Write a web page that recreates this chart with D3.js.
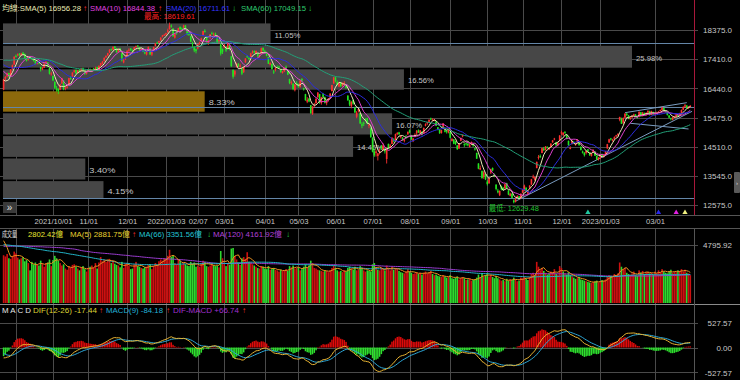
<!DOCTYPE html>
<html><head><meta charset="utf-8">
<script src="https://cdn.jsdelivr.net/npm/d3@7/dist/d3.min.js"></script>
<style>html,body{margin:0;padding:0;background:#000;overflow:hidden}</style>
</head><body><svg id="c" width="740" height="380"></svg>
<script>
// ---------------- DATA ----------------
const closes = [
16741,16818,16934,16822,17067,17209,17490,17516,17572,17536,
17595,17571,17443,17357,17474,17446,17407,17354,17256,17304,
17276,17078,17100,17260,17313,17161,16925,16935,16705,16460,
16393,16349,16570,16781,16408,16462,16497,16780,16781,16966,
17033,16941,17034,16998,17097,17032,16914,16987,17060,17024,
17058,17070,17123,17044,17190,17275,17327,17453,17512,17605,
17726,17715,17818,17770,17640,17745,17696,17369,17373,17427,
17690,17724,17697,17683,17800,17845,17827,17697,17750,17649,
17599,17669,17814,17562,17678,17812,17934,17946,18007,18126,
18196,18218,18270,18367,18526,18499,18169,18239,18288,18436,
18403,18403,18525,18378,18227,18218,17989,17899,17701,17674,
17900,17966,18100,18338,18310,17997,17997,18231,18268,18232,
18221,17969,18055,17594,17652,17891,17697,17934,17736,17178,
16826,17012,17264,17175,17203,16926,17156,17433,17485,17433,
17600,17653,17630,17677,17500,17538,17771,17693,17625,17522,
17256,17284,17083,16976,17116,17139,17153,16975,16988,17124,
17136,16898,16620,16644,16419,16565,16592,16500,16700,16696,
16408,16048,16061,16006,15616,15832,15901,16097,16300,15965,
16144,16156,15963,16018,16104,16266,16550,16807,16675,16552,
16605,16512,16621,16621,16460,16047,15902,15999,15932,15641,
15641,15753,15279,15204,15270,15397,15276,15240,14825,14343,
14217,14349,14284,14359,14464,14551,14349,14460,14467,14551,
14806,14684,14927,14963,14921,14851,14735,14747,14810,15000,
14980,14747,14777,14889,15036,14980,15046,14920,15131,15250,
15312,15399,15420,15408,15410,15200,15095,14956,15056,15278,
15000,14989,15095,14805,14763,14605,14597,14425,14614,14800,
14894,14570,14604,14551,14555,14660,14546,14424,14112,13778,
13800,13466,13656,13424,13268,13462,13763,13721,13531,13106,
12993,13040,13087,13073,13264,13133,12922,12950,12808,12666,
12786,12875,12788,12949,13066,13216,13027,13026,13219,13425,
13515,13500,14007,14168,14174,14460,14393,14515,14474,14465,
14611,14715,14778,14556,14640,14879,14981,14970,14980,14771,
14554,14464,14705,14628,14592,14738,14558,14398,14306,14225,
14366,14342,14229,14283,14403,14207,14086,14137,14224,14188,
14249,14349,14590,14753,14744,14744,14827,14883,14932,15493,
15265,15450,15600,15560,15450,15470,15530,15580,15510,15480,
15660,15520,15640,15580,15620,15690,15560,15680,15580,15609,
15640,15660,15720,15800,15700,15660,15560,15470,15420,15480,
15500,15560,15520,15610,15720,15823,15880,15790,15830,15860];
const opens = [
16400,16760,16840,16950,16850,17090,17230,17520,17530,17590,
17540,17620,17580,17440,17380,17480,17450,17410,17350,17250,
17300,17150,17090,17120,17290,17300,17120,16900,16850,16650,
16450,16420,16400,16600,16700,16450,16480,16560,16790,16820,
16990,17050,16960,17050,17020,17100,17010,16930,17020,17080,
17010,17100,17090,17150,17060,17200,17260,17340,17470,17530,
17630,17740,17720,17830,17760,17650,17760,17600,17300,17420,
17500,17700,17760,17690,17720,17820,17860,17800,17700,17760,
17640,17560,17700,17760,17560,17700,17840,17950,17960,18030,
18150,18210,18220,18300,18400,18520,18420,18120,18300,18330,
18480,18420,18460,18520,18390,18300,18180,17950,17800,17740,
17760,17920,18000,18180,18350,18150,17950,18100,18270,18230,
18250,18150,17950,17900,17750,17800,17800,17780,17860,17500,
17050,16900,17150,17250,17150,17100,16980,17300,17500,17450,
17450,17620,17680,17610,17600,17520,17600,17780,17680,17600,
17480,17230,17250,17000,17050,17150,17160,17080,16950,17000,
17150,17000,16750,16620,16600,16380,16620,16560,16480,16750,
16450,16250,16000,16100,15880,15600,15880,15950,16150,16250,
15950,16250,16150,15950,16050,16130,16350,16600,16800,16650,
16500,16640,16520,16600,16560,16200,16050,15850,16050,15800,
15500,15700,15620,15250,15300,15400,15450,15200,15120,14800,
14350,14300,14200,14350,14500,14400,14450,14100,14600,14500,
14600,14750,14700,14950,14980,14850,14800,14700,14830,14920,
15050,14850,14700,14850,14950,15050,14950,15000,14950,15200,
15280,15330,15440,15400,15380,15350,15150,15080,14960,15100,
15050,15020,14980,15000,14700,14750,14680,14550,14450,14700,
14850,14600,14620,14600,14500,14600,14600,14450,14300,13950,
13750,13700,13500,13600,13350,13300,13650,13800,13600,13250,
13050,12900,13200,13150,13130,13300,13050,12880,12950,12730,
12680,12830,12860,12800,12980,13050,13150,12950,13150,13250,
13500,13400,13800,14150,14200,14300,14450,14400,14500,14420,
14500,14650,14750,14650,14560,14700,14950,14900,15000,14900,
14700,14450,14600,14650,14580,14650,14650,14500,14350,14300,
14300,14420,14300,14200,14330,14350,14200,14080,14150,14250,
14200,14250,14450,14650,14780,14720,14760,14850,14900,15400,
15450,15300,15470,15600,15540,15420,15480,15540,15570,15500,
15500,15650,15530,15620,15560,15640,15680,15570,15650,15590,
15610,15640,15680,15720,15790,15700,15650,15540,15450,15400,
15490,15500,15560,15530,15620,15730,15830,15870,15790,15840];
const highs = [
16760,16850,16960,16960,17080,17230,17500,17560,17600,17610,
17620,17650,17600,17460,17490,17500,17470,17430,17370,17330,
17340,17160,17150,17280,17350,17310,17130,16990,16870,16680,
16520,16450,16590,16790,16710,16500,16540,16790,16850,16970,
17060,17070,17050,17080,17120,17130,17030,17000,17090,17100,
17080,17120,17160,17160,17200,17290,17350,17470,17540,17620,
17740,17760,17830,17840,17770,17760,17780,17610,17430,17520,
17700,17770,17780,17730,17810,17860,17870,17810,17760,17770,
17680,17690,17830,17770,17700,17820,17940,17990,18020,18130,
18210,18250,18290,18420,18619.61,18560,18440,18260,18350,18450,
18490,18460,18550,18540,18400,18310,18190,17990,17840,17760,
17930,17990,18120,18350,18400,18160,18050,18240,18320,18290,
18290,18180,18080,17930,17760,17910,17850,17950,17880,17520,
17070,17050,17290,17280,17260,17120,17170,17440,17540,17480,
17620,17700,17700,17700,17610,17560,17790,17800,17720,17650,
17490,17310,17260,17050,17130,17200,17190,17090,17020,17140,
17200,17010,16760,16700,16610,16580,16680,16600,16710,16780,
16460,16260,16150,16120,15890,15850,15960,16110,16320,16260,
16160,16290,16170,16040,16120,16280,16560,16820,16830,16700,
16660,16650,16640,16680,16580,16210,16060,16010,16080,15830,
15690,15790,15640,15320,15340,15450,15470,15280,15140,14820,
14450,14400,14300,14450,14560,14620,14460,14480,14610,14600,
14820,14790,14940,14990,15000,14900,14830,14780,14900,15010,
15080,14900,14800,14950,15060,15080,15060,15020,15140,15280,
15330,15410,15470,15450,15430,15360,15160,15090,15070,15290,
15070,15050,15110,15020,14800,14760,14700,14560,14630,14810,
14910,14620,14660,14640,14600,14680,14620,14470,14310,13960,
13880,13720,13700,13620,13400,13480,13780,13820,13620,13260,
13110,13060,13220,13170,13280,13310,13080,12980,12960,12760,
12800,12900,12880,12960,13100,13250,13160,13060,13230,13440,
13580,13520,14010,14230,14250,14470,14500,14530,14520,14480,
14620,14730,14800,14670,14660,14890,15040,14990,15020,14920,
14710,14520,14710,14700,14640,14760,14680,14520,14380,14330,
14380,14430,14320,14300,14420,14360,14210,14160,14250,14280,
14260,14360,14600,14770,14800,14770,14850,14900,14950,15500,
15470,15480,15620,15630,15560,15500,15560,15600,15590,15530,
15680,15660,15660,15640,15650,15720,15700,15700,15670,15640,
15670,15690,15740,15830,15800,15720,15660,15560,15470,15500,
15530,15580,15570,15630,15740,15850,15920,15890,15850,15890];
const lows = [
16380,16700,16800,16800,16840,17050,17220,17460,17500,17520,
17520,17550,17430,17330,17360,17420,17380,17330,17230,17230,
17240,17000,17040,17110,17270,17150,16900,16860,16680,16420,
16330,16250,16380,16590,16380,16380,16430,16540,16720,16810,
16960,16920,16930,16970,17000,17010,16890,16900,16980,17000,
16990,17040,17060,17020,17040,17170,17230,17330,17440,17510,
17610,17680,17700,17740,17620,17630,17680,17330,17270,17400,
17480,17650,17690,17630,17700,17780,17800,17690,17690,17640,
17570,17530,17690,17550,17510,17680,17830,17920,17940,18020,
18130,18180,18190,18280,18390,18450,18150,18090,18220,18310,
18380,18350,18440,18370,18200,18180,17970,17800,17640,17600,
17730,17880,17980,18170,18290,17960,17880,18090,18220,18180,
18170,17930,17920,17530,17580,17770,17650,17760,17700,17150,
16760,16830,17130,17150,17100,16880,16950,17290,17460,17380,
17430,17590,17590,17600,17480,17460,17590,17680,17600,17500,
17250,17200,17060,16920,17000,17120,17110,16960,16930,16980,
17100,16880,16580,16560,16380,16340,16540,16460,16470,16650,
16370,16030,15950,15980,15600,15560,15800,15930,16120,15930,
15900,16150,15940,15880,16000,16120,16340,16590,16640,16540,
16480,16490,16500,16560,16430,16030,15850,15780,15900,15620,
15450,15640,15260,15120,15190,15360,15250,15120,14800,14320,
14170,14180,14050,14250,14400,14380,14280,13950,14420,14460,
14590,14650,14680,14890,14900,14780,14700,14650,14760,14900,
14950,14720,14660,14820,14900,14960,14930,14880,14950,15180,
15230,15300,15390,15360,15350,15190,15050,14930,14940,15090,
14980,14940,14950,14790,14680,14590,14560,14400,14430,14690,
14820,14500,14540,14520,14480,14560,14500,14380,14100,13760,
13730,13450,13440,13400,13220,13270,13600,13690,13500,13060,
12960,12870,13060,13050,13100,13110,12900,12860,12790,12629.48,
12660,12800,12760,12780,12960,13030,13010,12920,13100,13240,
13450,13380,13790,14080,14130,14290,14360,14380,14440,14400,
14480,14640,14720,14530,14520,14680,14900,14860,14930,14750,
14540,14420,14580,14600,14540,14620,14540,14380,14280,14180,
14250,14330,14200,14180,14300,14200,14060,14050,14100,14170,
14150,14230,14440,14630,14710,14680,14740,14820,14860,15350,
15260,15260,15450,15520,15420,15400,15450,15520,15490,15440,
15480,15500,15510,15550,15540,15620,15540,15550,15560,15560,
15590,15620,15670,15700,15680,15640,15540,15450,15380,15380,
15460,15480,15500,15510,15600,15720,15810,15770,15760,15810];
const volumes = [
3950,3850,4050,3700,3650,3900,4250,4100,3750,3600,
3700,3800,3450,3550,3300,2700,3400,3200,3350,3150,
3100,3500,3250,3000,3300,3350,3600,3050,3550,3900,
3700,3500,3300,3100,3200,2850,2750,3050,2900,3150,
3200,3000,2850,2700,2950,3050,2800,2600,2900,3000,
3100,2950,3300,2850,3350,3800,3450,3600,3400,3550,
3650,3300,3500,3250,3150,3100,2950,3400,2900,3250,
3300,3100,2800,2850,3200,3400,3050,3000,2900,2850,
2950,3000,3150,3200,2800,3050,3300,3150,3450,3600,
3500,3700,3650,3900,4400,3800,3950,3300,3200,3600,
3500,3150,3300,3200,3100,3050,3400,3250,3350,3000,
3100,3000,3250,3500,3400,3050,3000,3100,3300,3150,
3050,3100,2950,4300,3700,3200,3050,3300,3150,4500,
4550,3900,3600,3350,3150,3700,3800,3650,4200,3400,
3350,3200,3100,3000,2900,2850,3050,3000,2850,2800,
3050,2750,2800,2900,2750,2700,2600,2750,2650,2700,
2800,2650,3050,2950,3100,2850,2900,2950,2700,2800,
3000,3200,2950,3100,3500,3300,2900,2850,2750,2700,
2650,2600,2700,2650,2550,2700,2900,3100,2900,2700,
2600,2650,2550,2700,2600,2900,3000,2850,2750,3000,
2700,2750,3050,2900,2700,2600,2700,2650,2600,3200,
3300,2900,2750,2700,2900,2800,2700,3100,2850,2700,
3000,2750,2900,2800,2650,2550,2500,2450,2600,2800,
2600,2500,2400,2450,2550,2400,2500,2350,2500,2600,
2450,2550,2650,2400,2300,2350,2250,2200,2150,2300,
2200,2100,2150,2300,2050,2000,2100,2200,1950,2050,
2150,2050,1900,1950,2000,1850,1900,1950,2100,2350,
2150,2400,2200,2300,2450,2200,2350,2150,2050,2250,
2050,1950,1850,1900,1800,2000,1850,1950,1900,2100,
1950,1800,1850,2100,2050,2200,2000,1900,2150,2400,
2500,2300,3400,3000,2700,2900,2650,2500,2350,2450,
2600,2550,2800,2400,2350,3050,2900,2600,2450,2350,
2550,2300,2200,2100,2000,2050,2150,1950,1900,1850,
1800,1750,1700,1650,1750,1800,1850,1700,1750,1900,
1850,1950,2200,2300,2250,2150,2400,2300,2450,3350,
3000,2800,2900,2500,2400,2350,2450,2600,2300,2250,
2700,2500,2650,2400,2550,2600,2450,2500,2350,2600,
2450,2700,2550,2800,2600,2500,2450,2650,2750,2500,
2600,2550,2700,2650,2800,2600,2750,2500,2450,2300];
// sessions before the visible window (only feed the moving averages / MACD)
const warmupCloses = [
16643,16602,16871,17068,16894,16870,17165,17147,17083,17076,
17083,17159,17213,17371,17320,17381,17371,17062,17247,17502,
17502,17543,17603,17598,17755,17710,17713,17919,17913,17847,
17866,17661,17814,17845,17918,17895,17895,17502,17502,17661,
17643,17572,17403,17527,17135,17402,17247,17503,17485,17553,
17526,17526,17323,17247,17219,17227,16982,16858,16661,16341];
const warmupVolumes = [
3700,3600,3500,3800,3900,3700,3500,3600,3800,3900,
4000,3800,3700,3600,3700,3900,4100,4200,4000,3800,
3700,3900,4100,4300,4100,3900,3800,4000,4400,4700,
4500,4300,4100,4400,4800,5200,4900,4600,4400,4700,
5300,5800,6500,7200,6800,6000,5600,5200,5000,5400,
5800,5300,4900,4700,
5100,5300,4900,4600,4800,5200,5500,5000,4700,4500,
4800,5100,5400,5000,4600,4400,4700,5000,5300,4900,
4500,4300,4600,4900,5200,4800,4500,4700,5000,4600,
4400,4700,4900,4600,4300,4500,4800,5100,4700,4400,
4600,4900,4500,4300,4600,4800,4400,4200,4500,4700,
4900,5200,4800,4600,5000,5400,5100,4900,5300,5600,
5000,4700,5200,5500,5800,5300];
const tickIndex  = [7, 28, 48, 70, 92, 110, 125, 148, 167, 188, 209, 230, 253, 274, 294, 316, 338, 369];
const tickLabels = ["", "2021/10/01", "11/01", "12/01", "2022/01/03", "02/07", "03/01", "04/01", "05/03", "06/01", "07/01", "08/01", "09/01", "10/03", "11/01", "12/01", "2023/01/03", "03/01"];
const priceTicks = [18375.0, 17410.0, 16440.0, 15475.0, 14510.0, 13545.0, 12575.0];
const volumeTicks = [4795.92];
const macdTicks = [527.57, 0, -527.57];
const profilePct = [11.05, 25.98, 16.56, 8.33, 16.07, 14.46, 3.40, 4.15];
const profileEdges = [18620, 17878, 17099, 16370, 15641, 14885, 14143, 13393, 12774];
const levelLines = [17944, 15823, 12797];
const trendLines = [[290, 12700, 390, 15680], [352, 15634, 387, 15966], [355, 15283, 388, 15094]];
const signalIdx = [331, 371, 381, 386];

// ---------------- STYLE ----------------
const FONT = "'Liberation Sans', Arial, 'Noto Sans CJK TC', sans-serif";
const UP = "#ff3030", DN = "#22e622";
const signalColors = ["#20c8a0", "#2828e8", "#e020e0", "#f0f080"];

const svg = d3.select("#c").attr("font-family", FONT);
svg.append("rect").attr("width", 740).attr("height", 380).attr("fill", "#000");

const N = closes.length;
const x = d3.scaleLinear().domain([0, N - 1]).range([3.6, 690.3]);
const yP = d3.scaleLinear().domain([12575, 18375]).range([205, 30]);
const yV = d3.scaleLinear().domain([0, 4795.92]).range([303, 245]);
const yM = d3.scaleLinear().domain([-527.57, 527.57]).range([372.3, 322.7]);
const wPct = d3.scaleLinear().domain([0, d3.max(profilePct)]).range([0, 629]);
const px = v => Math.round(v) + 0.5;

// ---------- derived series ----------
function sma(arr, n) {
  return arr.map((_, i) => { const s = arr.slice(Math.max(0, i - n + 1), i + 1); return d3.mean(s); });
}
function ema(arr, n) {
  const k = 2 / (n + 1); let e = arr[0];
  return arr.map((v, i) => (e = i === 0 ? v : v * k + e * (1 - k)));
}
const allC = warmupCloses.concat(closes);
const off = warmupCloses.length;
const smaSets = [5, 10, 20, 60].map(n => sma(allC, n).slice(off));
const e12 = ema(allC, 12), e26 = ema(allC, 26);
const difAll = e12.map((v, i) => v - e26[i]);
const sigAll = ema(difAll, 9);
const dif = difAll.slice(off), sig = sigAll.slice(off);
const osc = dif.map((v, i) => v - sig[i]);
const allV = warmupVolumes.concat(volumes);
const voff = warmupVolumes.length;
const vma = [5, 66, 120].map(n => sma(allV, n).slice(voff));

// ---------- grid ----------
const grid = svg.append("g").attr("stroke", "#4a4a4a").attr("stroke-width", 1);
const panels = [[0, 215], [228, 304], [305, 380]];
panels.forEach(([a, b]) => {
  grid.selectAll(null).data(tickIndex).enter().append("line")
    .attr("x1", d => px(x(d))).attr("x2", d => px(x(d))).attr("y1", a).attr("y2", b);
});
grid.selectAll(null).data(priceTicks).enter().append("line")
  .attr("x1", 0).attr("x2", 698).attr("y1", d => px(yP(d))).attr("y2", d => px(yP(d)));
grid.selectAll(null).data(volumeTicks).enter().append("line")
  .attr("x1", 0).attr("x2", 698).attr("y1", d => px(yV(d))).attr("y2", d => px(yV(d)));
grid.selectAll(null).data(macdTicks).enter().append("line")
  .attr("x1", 0).attr("x2", 698).attr("y1", d => px(yM(d))).attr("y2", d => px(yM(d)));

// panel frames
const fr = svg.append("g").attr("stroke-width", 1);
fr.append("line").attr("x1", 0).attr("x2", 740).attr("y1", 215.5).attr("y2", 215.5).attr("stroke", "#555");
fr.append("line").attr("x1", 0).attr("x2", 740).attr("y1", 228.5).attr("y2", 228.5).attr("stroke", "#555");
fr.append("line").attr("x1", 0).attr("x2", 740).attr("y1", 304.5).attr("y2", 304.5).attr("stroke", "#8a8a8a");
fr.append("line").attr("x1", 694.5).attr("x2", 694.5).attr("y1", 0).attr("y2", 215).attr("stroke", "#a8183a");
fr.append("line").attr("x1", 694.5).attr("x2", 694.5).attr("y1", 228).attr("y2", 380).attr("stroke", "#555");

// ---------- price distribution boxes ----------
const lastC = closes[N - 1];
const boxes = svg.append("g");
profilePct.forEach((p, i) => {
  const top = yP(profileEdges[i]) + 0.8, bot = yP(profileEdges[i + 1]) - 0.8;
  const cur = lastC <= profileEdges[i] && lastC > profileEdges[i + 1];
  boxes.append("rect").attr("x", 3).attr("y", top).attr("width", wPct(p)).attr("height", bot - top)
    .attr("fill", cur ? "#8c690c" : "#474747");
  boxes.append("text").attr("x", 3 + wPct(p) + 4).attr("y", (top + bot) / 2 + 1.5)
    .attr("dominant-baseline", "central").attr("font-size", 8).attr("fill", "#c4c4c4")
    .attr("textLength", 26).attr("lengthAdjust", "spacingAndGlyphs")
    .text(p.toFixed(2) + "%");
});

// ---------- level & trend lines ----------
const lv = svg.append("g").attr("stroke", "#6486a8").attr("stroke-width", 1);
levelLines.forEach(v => lv.append("line").attr("x1", 3).attr("x2", 694).attr("y1", px(yP(v))).attr("y2", px(yP(v))));
trendLines.forEach(t => lv.append("line").attr("x1", x(t[0])).attr("y1", yP(t[1])).attr("x2", x(t[2])).attr("y2", yP(t[3])).attr("stroke", "#7a9cc0"));

// ---------- candles ----------
const cg = svg.append("g");
closes.forEach((c, i) => {
  const o = opens[i], col = c >= o ? UP : DN, cx = x(i);
  cg.append("line").attr("x1", cx).attr("x2", cx).attr("y1", yP(highs[i])).attr("y2", yP(lows[i]))
    .attr("stroke", col).attr("stroke-width", 0.9);
  const y1 = yP(Math.max(o, c)), h = Math.max(1, Math.abs(yP(o) - yP(c)));
  cg.append("rect").attr("x", cx - 0.8).attr("y", y1).attr("width", 1.6).attr("height", h).attr("fill", col);
});

// ---------- SMA lines ----------
const smaColors = ["#f0e8b8", "#e040d0", "#2c2ce0", "#22a078"];
const line = d3.line().x((d, i) => x(i)).y(d => yP(d));
smaSets.forEach((s, k) => svg.append("path").attr("d", line(s)).attr("fill", "none")
  .attr("stroke", smaColors[k]).attr("stroke-width", 1));

// high / low labels
const hiIdx = d3.maxIndex(highs), loIdx = d3.minIndex(lows);
svg.append("text").attr("x", x(hiIdx)).attr("y", yP(highs[hiIdx]) - 6).attr("text-anchor", "middle")
  .attr("dominant-baseline", "central").attr("font-size", 8).attr("fill", "#ff2020")
  .attr("textLength", 51).attr("lengthAdjust", "spacingAndGlyphs").text("最高: " + highs[hiIdx].toFixed(2));
svg.append("text").attr("x", x(loIdx)).attr("y", yP(lows[loIdx]) + 5).attr("text-anchor", "middle")
  .attr("dominant-baseline", "central").attr("font-size", 8).attr("fill", "#22c430")
  .attr("textLength", 50).attr("lengthAdjust", "spacingAndGlyphs").text("最低: " + lows[loIdx].toFixed(2));

// signal triangles
signalIdx.forEach((d, k) => svg.append("path").attr("d", d3.symbol(d3.symbolTriangle).size(12)())
  .attr("transform", `translate(${x(d)},212.5)`).attr("fill", signalColors[k]));

// ---------- volume ----------
const vg = svg.append("g");
volumes.forEach((v, i) => {
  const upv = i === 0 ? closes[i] >= opens[i] : closes[i] >= closes[i - 1];
  vg.append("rect").attr("x", x(i) - 0.8).attr("y", yV(v)).attr("width", 1.6).attr("height", yV(0) - yV(v))
    .attr("fill", upv ? "#cc1010" : "#2ed82e");
});
const vline = d3.line().x((d, i) => x(i)).y(d => yV(d));
const vmaColors = ["#e89020", "#22b4c8", "#9a3cd0"];
[2, 1, 0].forEach(k => svg.append("path").attr("d", vline(vma[k])).attr("fill", "none")
  .attr("stroke", vmaColors[k]).attr("stroke-width", 1));

// ---------- MACD ----------
const mg = svg.append("g");
osc.forEach((v, i) => {
  const a = yM(0), b = yM(v * 2);
  mg.append("rect").attr("x", x(i) - 0.75).attr("y", Math.min(a, b)).attr("width", 1.5)
    .attr("height", Math.abs(b - a)).attr("fill", v >= 0 ? "#dd0a0a" : "#2ee02e");
});
const mline = d3.line().x((d, i) => x(i)).y(d => yM(d));
svg.append("path").attr("d", mline(sig)).attr("fill", "none").attr("stroke", "#2ca6d6").attr("stroke-width", 1);
svg.append("path").attr("d", mline(dif)).attr("fill", "none").attr("stroke", "#e8b432").attr("stroke-width", 1);

// ---------- axes ----------
function styleAxis(g, size) {
  g.select(".domain").remove();
  g.selectAll("line").remove();
  g.selectAll("text").attr("fill", "#c8c8c8").attr("font-size", size).attr("font-family", FONT);
}
const dateAxis = d3.axisBottom(x).tickValues(tickIndex.filter((d, i) => tickLabels[i]))
  .tickFormat(d => tickLabels[tickIndex.indexOf(d)]).tickSize(0);
svg.append("g").attr("transform", "translate(0,221.5)").call(dateAxis).call(g => {
  styleAxis(g, 7.6); g.selectAll("text").attr("y", 0).attr("dy", "0.35em");
});
function rightAxis(scale, vals, fmt) {
  svg.append("g").attr("transform", "translate(732,0)")
    .call(d3.axisRight(scale).tickValues(vals).tickFormat(fmt).tickSize(0))
    .call(g => { styleAxis(g, 8); g.selectAll("text").attr("x", 0).attr("dy", "0.35em").attr("text-anchor", "end"); });
}
rightAxis(yP, priceTicks, d => d.toFixed(1));
rightAxis(yV, volumeTicks, d => d.toFixed(2));
rightAxis(yM, macdTicks, d => d.toFixed(2));

// ---------- header texts ----------
function seg(list, y) {
  list.forEach(([xx, s, col, len]) => {
    const t = svg.append("text").attr("x", xx).attr("y", y).attr("dominant-baseline", "central")
      .attr("font-size", 8).attr("fill", col).text(s);
    if (len) t.attr("textLength", len).attr("lengthAdjust", "spacingAndGlyphs");
  });
}
const R = "#ff3030", G = "#22cc44";
seg([[2, "均線:SMA(5) 16956.28", "#ecebb4", 79], [83, "↑", R], [90, "SMA(10) 16844.38", "#e040e0", 65], [158, "↑", R],
     [166, "SMA(20) 16711.61", "#3434ff", 64], [232, "↓", G], [241, "SMA(60) 17049.15", "#2ecc70", 65], [308, "↓", G]], 8);
seg([[2, "成交量", "#e8e8e8", 15], [28, "2802.42億", "#e6e630", 35], [70, "MA(5) 2881.75億", "#e6d030", 60], [132, "↑", R],
     [139, "MA(66) 3351.56億", "#22c4d4", 63], [207, "↓", G], [213, "MA(120) 4161.92億", "#b040d8", 69], [286, "↓", G]], 234);
seg([[2, "M A C D", "#e8e8e8", 29], [33, "DIF(12-26) -17.44", "#dcd434", 64], [99, "↑", R], [106, "MACD(9) -84.18", "#22b0d8", 57],
     [166, "↑", R], [173, "DIF-MACD +66.74", "#a030d0", 66], [242, "↑", R]], 310);

// ---------- small widgets ----------
svg.append("rect").attr("x", 3).attr("y", 202).attr("width", 13).attr("height", 11).attr("fill", "#3a3a3a");
svg.append("text").attr("x", 9.5).attr("y", 207.5).attr("text-anchor", "middle").attr("dominant-baseline", "central")
  .attr("font-size", 10).attr("fill", "#e0e0e0").text("»");
svg.append("rect").attr("x", 734).attr("y", 172).attr("width", 6).attr("height", 21).attr("rx", 1).attr("fill", "#5a5a5a");
svg.append("text").attr("x", 737).attr("y", 182.5).attr("text-anchor", "middle").attr("dominant-baseline", "central")
  .attr("font-size", 6).attr("fill", "#ddd").text("›");
</script></body></html>
